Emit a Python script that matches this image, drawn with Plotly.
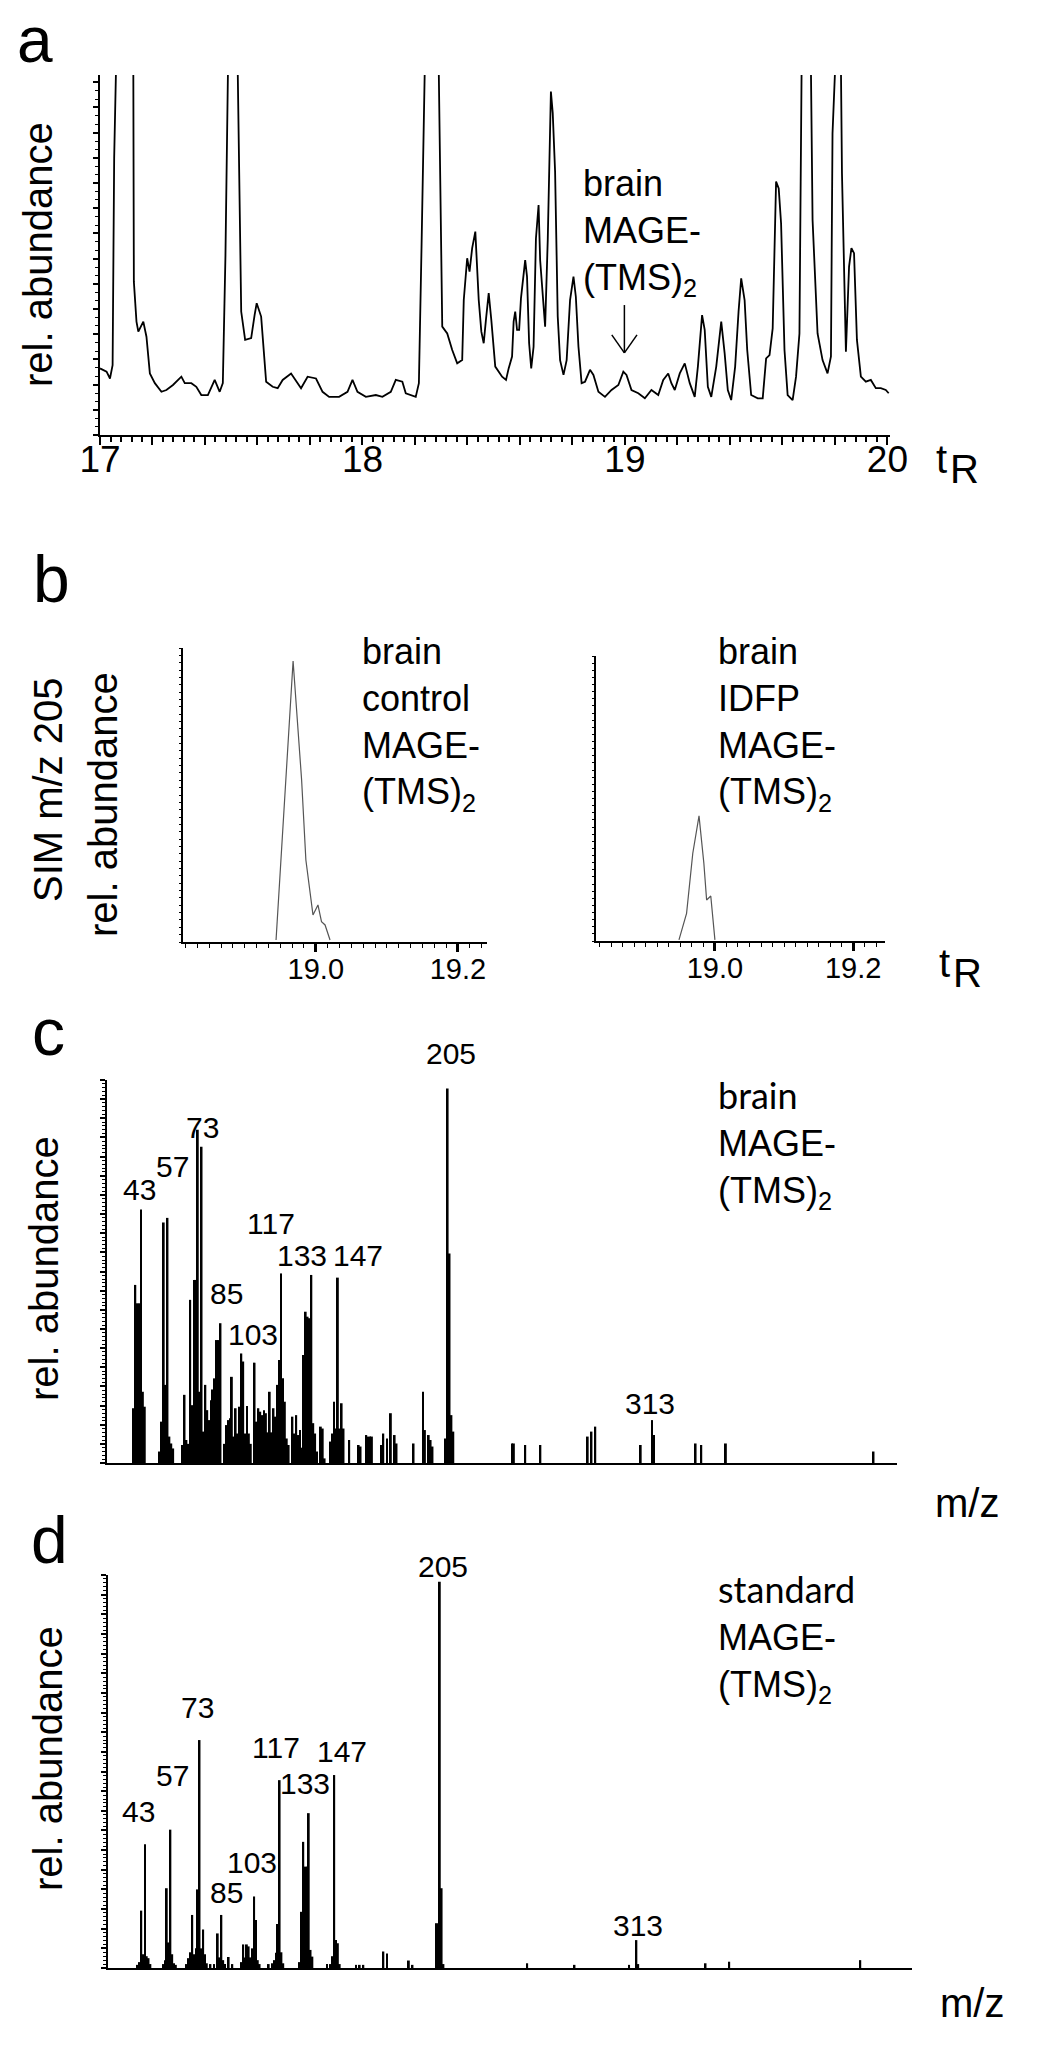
import plotly.graph_objects as go

# the page body keeps its default 8 px margin, so the figure is drawn 8 px in from the window
PAGE_W, PAGE_H, BODY = 1050, 2047, 8
W, H = PAGE_W - 2 * BODY, PAGE_H - 2 * BODY
FONT = "Liberation Sans, Arial, sans-serif"

# ---------------- a: total ion chromatogram (100 = top of the axis, bigger peaks run off scale)
a_time = [
    17.000, 17.025, 17.038, 17.048, 17.054, 17.061, 17.089, 17.127, 17.129, 17.139,
    17.146, 17.165, 17.177, 17.190, 17.209, 17.234, 17.253, 17.278, 17.310, 17.323,
    17.348, 17.367, 17.386, 17.411, 17.437, 17.456, 17.468, 17.478, 17.487, 17.506,
    17.525, 17.529, 17.538, 17.553, 17.576, 17.589, 17.597, 17.614, 17.627, 17.633,
    17.658, 17.677, 17.696, 17.728, 17.766, 17.791, 17.823, 17.848, 17.873, 17.911,
    17.943, 17.962, 17.981, 18.013, 18.051, 18.076, 18.108, 18.127, 18.152, 18.165,
    18.203, 18.215, 18.225, 18.234, 18.262, 18.291, 18.297, 18.304, 18.323, 18.342,
    18.361, 18.380, 18.386, 18.399, 18.408, 18.418, 18.430, 18.443, 18.453, 18.462,
    18.471, 18.481, 18.491, 18.506,
    18.532, 18.547, 18.557, 18.570, 18.576, 18.582, 18.589, 18.597, 18.604, 18.614,
    18.620, 18.627, 18.635, 18.643, 18.652, 18.661, 18.671, 18.677, 18.690, 18.696,
    18.706, 18.711, 18.718, 18.725, 18.734, 18.744, 18.753, 18.766, 18.778, 18.791,
    18.804, 18.813, 18.823, 18.835, 18.848, 18.867, 18.880, 18.899, 18.924, 18.949,
    18.975, 18.994, 19.006, 19.025, 19.051, 19.076, 19.101, 19.127, 19.146, 19.165,
    19.177, 19.190, 19.209, 19.228, 19.247, 19.266, 19.278, 19.294, 19.304, 19.316,
    19.329, 19.348, 19.367, 19.380, 19.392, 19.405, 19.420, 19.433, 19.443, 19.456,
    19.466, 19.481, 19.506, 19.525, 19.538, 19.551, 19.563, 19.576, 19.586, 19.595,
    19.608, 19.620, 19.639, 19.652, 19.665, 19.673, 19.690, 19.709, 19.715, 19.734,
    19.753, 19.772, 19.785, 19.791, 19.800, 19.810, 19.823, 19.827, 19.842, 19.854,
    19.863, 19.873, 19.884, 19.899, 19.918, 19.937, 19.956, 19.975, 19.994, 20.005,
]
a_abund = [
    18.5, 17.6, 15.7, 19.4, 76.9, 100, 200, 100, 42.6, 31.5,
    28.7, 31.5, 27.3, 17.1, 14.4, 12.0, 12.5, 13.9, 16.2, 14.4,
    14.4, 13.4, 11.1, 11.1, 15.3, 12.0, 14.4, 50.0, 100, 200,
    100, 82.9, 34.3, 26.4, 26.9, 33.3, 36.6, 32.9, 18.5, 14.8,
    13.4, 13.0, 15.3, 17.1, 13.0, 16.2, 15.7, 12.0, 10.6, 10.6,
    12.0, 15.3, 12.0, 10.6, 11.1, 10.6, 12.0, 15.3, 14.8, 11.6,
    10.6, 14.4, 51.9, 100, 200, 100, 71.3, 30.1, 28.2, 23.6,
    19.9, 20.8, 37.5, 49.1, 45.4, 51.9, 56.5, 37.5, 28.7, 25.5,
    32.4, 39.4, 31.9, 19.0,
    16.2, 15.3, 18.5, 21.8, 31.5, 34.3, 29.2, 29.2, 38.0, 44.9,
    48.6, 44.0, 25.5, 18.5, 24.5, 54.6, 63.9, 48.6, 36.1, 30.1,
    54.2, 75.9, 95.4, 89.4, 73.1, 32.9, 20.8, 16.7, 20.8, 37.5,
    44.0, 38.4, 24.5, 14.4, 14.8, 18.1, 16.7, 12.0, 10.6, 12.5,
    13.9, 17.6, 16.7, 12.5, 11.6, 10.2, 12.5, 11.1, 15.3, 17.1,
    14.4, 12.5, 17.1, 19.9, 14.4, 10.6, 19.0, 33.3, 29.2, 13.4,
    10.6, 19.0, 31.5, 22.7, 12.5, 9.7, 19.0, 34.3, 43.5, 37.5,
    23.6, 11.1, 10.2, 10.2, 21.3, 22.2, 29.6, 70.4, 68.5, 58.8,
    23.6, 11.1, 9.7, 16.2, 28.2, 100, 200, 100, 59.7, 28.2,
    20.8, 17.1, 21.8, 83.8, 100, 200, 100, 72.7, 23.1, 46.8,
    51.9, 50.5, 26.4, 16.2, 14.8, 15.3, 13.0, 13.0, 12.5, 11.6,
]
a_mage_rt = 18.998

# ---------------- b: SIM m/z 205
b_ctrl_time = [18.944, 18.968, 18.980, 18.986, 18.996, 19.003, 19.008, 19.013, 19.020]
b_ctrl_abund = [0.7, 95.6, 55.1, 27.9, 9.2, 12.6, 6.9, 5.8, 0.7]
b_idfp_time = [18.948, 18.959, 18.968, 18.977, 18.984, 18.988, 18.994, 19.000]
b_idfp_abund = [0.4, 9.7, 30.8, 43.9, 27.3, 14.4, 15.8, 0.4]
b_tick_labels = ["19.0", "19.2"]

# ---------------- c: brain MAGE-(TMS)2 spectrum
c_mz = [
    39, 40, 41, 42, 43, 44, 45, 53, 54, 55, 56, 57, 58, 59, 60, 65, 66, 67, 68, 69,
    70, 71, 72, 73, 74, 75, 76, 77, 78, 79, 80, 81, 82, 83, 84, 85, 87, 88, 89, 90,
    91, 92, 93, 94, 95, 96, 97, 98, 99, 100, 101, 103, 104, 105, 106, 107, 108, 109, 110, 111,
    112, 113, 114, 115, 116, 117, 118, 119, 120, 121, 123, 124, 125, 126, 127, 128, 129, 130, 131, 132,
    133, 134, 135, 136, 138, 139, 140, 143, 144, 145, 146, 147, 148, 149, 150, 153, 158, 159, 162, 163,
    164, 165, 170, 171, 173, 175, 177, 178, 187, 192, 193, 195, 196, 197, 204, 205, 206, 207, 208, 239,
    240, 246, 254, 279, 281, 283, 307, 313, 314, 336, 339, 352, 430,
]
c_abund = [
    14.3, 46.5, 41.7, 41.7, 66.2, 18.6, 14.7, 3.0, 10.8, 62.8, 20.4, 64.0, 6.9, 5.1, 3.8, 4.7, 17.8, 6.0, 5.0, 42.6,
    15.1, 47.8, 47.8, 87.0, 18.6, 82.6, 8.2, 20.4, 13.8, 11.2, 16.4, 19.2, 22.1, 32.1, 32.1, 36.5, 5.0, 9.9, 11.2, 11.7,
    22.5, 6.9, 14.3, 7.7, 14.7, 28.6, 26.5, 7.7, 14.9, 7.7, 5.0, 26.2, 10.8, 14.3, 13.4, 12.5, 13.8, 13.0, 8.0, 18.6,
    8.0, 14.3, 12.1, 20.4, 26.9, 49.5, 22.1, 16.0, 6.4, 4.7, 12.1, 7.7, 12.5, 7.3, 8.6, 4.0, 28.2, 39.5, 38.2, 37.8,
    49.1, 10.4, 7.7, 3.0, 9.5, 9.0, 1.2, 5.6, 7.7, 16.0, 9.0, 48.4, 9.0, 15.6, 9.0, 6.0, 4.7, 4.3, 7.3, 6.9,
    6.9, 6.9, 4.7, 7.7, 6.4, 13.0, 7.3, 5.1, 5.1, 18.6, 8.6, 7.3, 6.0, 4.3, 6.4, 97.8, 54.7, 12.5, 8.2, 5.1,
    5.1, 4.7, 4.7, 6.9, 8.2, 9.5, 4.7, 11.2, 7.3, 5.1, 4.7, 5.1, 3.0,
]
c_peaks = [43, 57, 73, 85, 103, 117, 133, 147, 205, 313]

# ---------------- d: standard MAGE-(TMS)2 spectrum
d_mz = [
    39, 40, 41, 42, 43, 44, 45, 46, 53, 54, 55, 56, 57, 58, 59, 60, 66, 67, 68, 69,
    70, 71, 72, 73, 74, 75, 76, 77, 79, 81, 83, 84, 85, 86, 87, 89, 91, 96, 97, 98,
    99, 100, 101, 102, 103, 104, 105, 106, 111, 113, 114, 115, 116, 117, 118, 119, 128, 129, 130, 131,
    132, 133, 134, 135, 143, 145, 146, 147, 148, 149, 150, 159, 161, 163, 174, 176, 188, 190, 203, 204,
    205, 206, 207, 253, 279, 309, 313, 314, 351, 364, 436,
]
d_abund = [
    0.8, 1.5, 14.6, 3.5, 31.5, 3.0, 2.5, 1.0, 1.0, 2.0, 20.3, 6.5, 35.2, 3.5, 1.2, 0.8, 1.0, 2.5, 4.0, 13.5,
    3.5, 5.0, 20.0, 58.0, 5.0, 9.8, 3.5, 1.2, 1.0, 1.0, 8.8, 2.7, 13.5, 2.0, 1.0, 2.8, 1.0, 1.5, 6.0, 2.7,
    6.0, 5.5, 2.7, 5.0, 18.2, 12.2, 2.0, 1.0, 1.0, 1.2, 2.0, 3.9, 11.2, 47.8, 4.0, 1.2, 1.5, 14.3, 32.1, 25.8,
    25.8, 39.4, 4.6, 2.9, 1.0, 1.0, 3.0, 49.1, 7.1, 6.3, 1.0, 0.8, 0.8, 0.8, 4.2, 3.7, 1.9, 0.8, 11.4, 11.4,
    98.3, 20.3, 1.0, 1.2, 0.8, 0.8, 7.1, 1.0, 1.2, 1.6, 2.0,
]
d_peaks = [43, 57, 73, 85, 103, 117, 133, 147, 205, 313]


def px(x, y):
    # window pixel -> paper fraction
    return (x - BODY) / W, 1 - (y - BODY) / H


def domain(x0, x1, y0, y1):
    (a, b), (c, d) = px(x0, y1), px(x1, y0)
    return [a, c], [b, d]


fig = go.Figure()

fig.add_trace(go.Scatter(x=a_time, y=a_abund, mode="lines", line=dict(color="black", width=1.8),
                         xaxis="x", yaxis="y"))
fig.add_trace(go.Scatter(x=b_ctrl_time, y=b_ctrl_abund, mode="lines", line=dict(color="#555", width=1.2),
                         xaxis="x2", yaxis="y2"))
fig.add_trace(go.Scatter(x=b_idfp_time, y=b_idfp_abund, mode="lines", line=dict(color="#555", width=1.2),
                         xaxis="x3", yaxis="y3"))
fig.add_trace(go.Bar(x=c_mz, y=c_abund, width=1.0, marker=dict(color="black", line=dict(width=0)),
                     xaxis="x4", yaxis="y4"))
fig.add_trace(go.Bar(x=d_mz, y=d_abund, width=1.0, marker=dict(color="black", line=dict(width=0)),
                     xaxis="x5", yaxis="y5"))

base = dict(showgrid=False, zeroline=False, showline=True, linecolor="black",
            tickcolor="black", fixedrange=True, automargin=False)

# a
xa, ya = domain(100, 890, 75, 435)
fig.update_layout(
    xaxis=dict(base, domain=xa, range=[17, 20.01], anchor="y", linewidth=2, ticks="outside",
               tick0=17, dtick=0.2, ticklabelstep=5, tickformat=".0f", ticklen=8, tickwidth=2,
               ticklabelstandoff=-17,
               tickfont=dict(size=37, color="black", family=FONT),
               minor=dict(dtick=0.04, tick0=17, ticks="outside", ticklen=5, tickwidth=2, tickcolor="black")),
    yaxis=dict(base, domain=ya, range=[0, 100], anchor="x", linewidth=2, ticks="outside",
               dtick=7, ticklen=5, tickwidth=1.5, showticklabels=False,
               minor=dict(dtick=7 / 3, ticks="outside", ticklen=3, tickwidth=1, tickcolor="black")),
)

# b
for ax, (x0, x1, y0, y1, rng) in zip(
    ["2", "3"],
    [(183, 487, 648, 942, [18.813, 19.241]), (596, 885, 656, 941, [18.828, 19.246])],
):
    xd, yd = domain(x0, x1, y0, y1)
    fig.layout["xaxis" + ax] = dict(
        base, domain=xd, range=rng, anchor="y" + ax, linewidth=1.5, ticks="outside",
        tickmode="array", tickvals=[19.0, 19.2], ticktext=b_tick_labels, ticklen=8, tickwidth=2.5,
        ticklabelstandoff=-8,
        tickfont=dict(size=29, color="black", family=FONT),
        minor=dict(dtick=1 / 60, tick0=19.0, ticks="outside", ticklen=4, tickwidth=1, tickcolor="black"))
    fig.layout["yaxis" + ax] = dict(
        base, domain=yd, range=[0, 100], anchor="x" + ax, linewidth=1.5, ticks="outside",
        dtick=2.5, ticklen=2, tickwidth=1, showticklabels=False)

# c and d
for ax, (x0, x1, y0, y1, rng) in zip(
    ["4", "5"],
    [(107, 897, 1080, 1463, [25.04, 442.4]), (108, 912, 1575, 1968, [22.7, 464.4])],
):
    xd, yd = domain(x0, x1, y0, y1)
    fig.layout["xaxis" + ax] = dict(base, domain=xd, range=rng, anchor="y" + ax, linewidth=2,
                                    ticks="", showticklabels=False)
    fig.layout["yaxis" + ax] = dict(
        base, domain=yd, range=[0, 100], anchor="x" + ax, linewidth=2, ticks="outside",
        dtick=5, ticklen=5, tickwidth=1.5, showticklabels=False,
        minor=dict(dtick=1, ticks="outside", ticklen=3, tickwidth=1, tickcolor="black"))

ann = []


def text(x, y, s, size, angle=0, xanchor="center", yanchor="middle", family=FONT):
    px_, py_ = px(x, y)
    ann.append(dict(x=px_, y=py_, xref="paper", yref="paper", text=s, showarrow=False,
                    font=dict(size=size, color="black", family=family), textangle=angle,
                    xanchor=xanchor, yanchor=yanchor, align="left"))


# panel letters
text(35, 40, "a", 64)
text(51, 579, "b", 66)
text(48, 1032, "c", 66)
text(49, 1540, "d", 66)

# axis titles
text(38, 255, "rel. abundance", 40, angle=-90)
text(48, 790, "SIM m/z 205", 40, angle=-90)
text(103, 805, "rel. abundance", 40, angle=-90)
text(44, 1269, "rel. abundance", 40, angle=-90)
text(48, 1759, "rel. abundance", 40, angle=-90)

# t_R and m/z
for tx, ty in [(941, 459), (944, 963)]:
    text(tx, ty, "t", 40)
    text(tx + 23, ty + 10, "R", 40)
text(967, 1503, "m/z", 40)
text(972, 2003, "m/z", 40)

# sample labels
sub = "(TMS)<sub>2</sub>"
text(581, 161, "brain<br>MAGE-<br>" + sub, 36, xanchor="left", yanchor="top")
text(360, 629, "brain<br>control<br>MAGE-<br>" + sub, 36, xanchor="left", yanchor="top")
text(716, 629, "brain<br>IDFP<br>MAGE-<br>" + sub, 36, xanchor="left", yanchor="top")
text(716, 1071, "<span style='font-family:Lato'>brain</span><br>MAGE-<br>" + sub, 36,
     xanchor="left", yanchor="top")
text(716, 1565, "<span style='font-family:Lato'>standard</span><br>MAGE-<br>" + sub, 36,
     xanchor="left", yanchor="top")

# peak labels (pixel offsets from the bar top)
c_offsets = [(-2, 20), (5, 51), (5, 2), (6, 30), (-2, 28), (-10, 50), (-9, 19), (20, 22), (3, 35), (-2, 17)]
d_offsets = [(-6, 33), (2, 54), (-2, 33), (5, 22), (-2, 34), (-4, 33), (-4, 30), (8, 24), (3, 15), (2, 15)]
for mzs, vals, peaks, offs, ax in [(c_mz, c_abund, c_peaks, c_offsets, "4"),
                                   (d_mz, d_abund, d_peaks, d_offsets, "5")]:
    for p, (dx, dy) in zip(peaks, offs):
        ann.append(dict(x=p, y=vals[mzs.index(p)], xref="x" + ax, yref="y" + ax, text=str(p),
                        showarrow=False, xshift=dx, yshift=dy, xanchor="center", yanchor="middle",
                        font=dict(size=30, color="black", family=FONT)))

# arrow pointing at the MAGE peak in panel a
shapes = [
    dict(type="line", xref="x", yref="y", x0=a_mage_rt, x1=a_mage_rt, y0=36.1, y1=22.8,
         line=dict(color="black", width=1.5)),
    dict(type="line", xref="x", yref="y", x0=a_mage_rt - 0.048, x1=a_mage_rt, y0=27.8, y1=22.8,
         line=dict(color="black", width=1.5)),
    dict(type="line", xref="x", yref="y", x0=a_mage_rt + 0.048, x1=a_mage_rt, y0=27.8, y1=22.8,
         line=dict(color="black", width=1.5)),
]

fig.update_layout(
    width=W, height=H, margin=dict(l=0, r=0, t=0, b=0),
    paper_bgcolor="white", plot_bgcolor="white", showlegend=False,
    font=dict(family=FONT, color="black"),
    annotations=ann, shapes=shapes,
)

fig.write_html("out.html")
